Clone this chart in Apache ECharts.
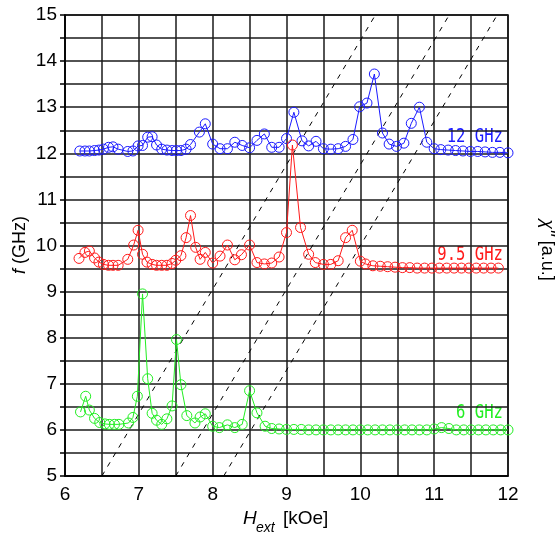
<!DOCTYPE html>
<html><head><meta charset="utf-8">
<script src="https://cdn.jsdelivr.net/npm/echarts@6/dist/echarts.min.js"></script>
<style>html,body{margin:0;padding:0;background:#fff}#c{width:560px;height:537px}</style>
</head><body><div id="c"></div>
<script>
// ---- data ----
const xTicks = [6, 7, 8, 9, 10, 11, 12];
const yTicks = [5, 6, 7, 8, 9, 10, 11, 12, 13, 14, 15];

const hBlue = [6.2,6.27,6.33,6.4,6.46,6.52,6.59,6.65,6.72,6.85,6.92,6.99,7.05,7.12,7.18,7.24,7.31,7.38,7.45,7.51,7.57,7.64,7.7,7.82,7.9,8.0,8.1,8.2,8.3,8.4,8.5,8.6,8.7,8.8,8.9,9.0,9.1,9.21,9.3,9.4,9.5,9.6,9.7,9.8,9.9,9.99,10.09,10.19,10.3,10.39,10.49,10.59,10.69,10.8,10.9,11.0,11.09,11.19,11.29,11.39,11.49,11.59,11.69,11.79,11.89,12.0];
const fBlue = [12.05,12.05,12.05,12.06,12.07,12.09,12.13,12.14,12.09,12.04,12.05,12.16,12.17,12.35,12.36,12.18,12.09,12.07,12.06,12.06,12.06,12.09,12.19,12.46,12.64,12.20,12.10,12.10,12.24,12.17,12.12,12.28,12.42,12.13,12.13,12.32,12.89,12.27,12.16,12.26,12.10,12.09,12.10,12.15,12.30,13.01,13.09,13.72,12.44,12.20,12.15,12.22,12.65,13.0,12.24,12.10,12.08,12.07,12.06,12.05,12.04,12.04,12.03,12.02,12.02,12.01];

const hRed = [6.19,6.27,6.33,6.4,6.46,6.52,6.59,6.65,6.72,6.85,6.93,6.99,7.05,7.11,7.18,7.24,7.31,7.38,7.45,7.5,7.57,7.64,7.7,7.77,7.83,7.9,8.0,8.1,8.2,8.3,8.39,8.5,8.6,8.7,8.8,8.9,9.0,9.08,9.19,9.3,9.39,9.5,9.6,9.7,9.8,9.89,10.0,10.07,10.17,10.27,10.37,10.47,10.57,10.67,10.77,10.87,10.97,11.07,11.17,11.27,11.37,11.47,11.57,11.67,11.77,11.87];
const fRed = [9.72,9.85,9.88,9.73,9.64,9.59,9.57,9.57,9.57,9.70,10.01,10.33,9.81,9.64,9.59,9.57,9.57,9.57,9.61,9.68,9.78,10.17,10.65,9.96,9.70,9.85,9.62,9.77,10.01,9.69,9.80,10.01,9.63,9.60,9.62,9.75,10.28,12.18,10.39,9.81,9.63,9.59,9.59,9.67,10.17,10.33,9.66,9.60,9.56,9.55,9.54,9.53,9.52,9.52,9.51,9.51,9.51,9.51,9.51,9.51,9.51,9.51,9.51,9.51,9.51,9.51];

const hGreen = [6.21,6.28,6.33,6.4,6.47,6.54,6.6,6.67,6.73,6.86,6.92,6.98,7.05,7.12,7.18,7.24,7.31,7.38,7.45,7.51,7.57,7.65,7.76,7.83,7.9,8.0,8.09,8.2,8.3,8.4,8.5,8.6,8.71,8.8,8.9,9.0,9.1,9.2,9.3,9.4,9.5,9.6,9.7,9.8,9.9,10.0,10.1,10.2,10.3,10.4,10.5,10.6,10.7,10.8,10.9,11.0,11.1,11.2,11.3,11.4,11.5,11.6,11.7,11.8,11.9,12.0];
const fGreen = [6.39,6.73,6.43,6.25,6.16,6.13,6.12,6.12,6.12,6.15,6.27,6.73,8.95,7.11,6.36,6.21,6.12,6.24,6.52,7.96,6.98,6.31,6.15,6.28,6.35,6.08,6.05,6.11,6.05,6.12,6.85,6.37,6.08,6.03,6.02,6.01,6.01,6.01,6.0,6.0,6.0,6.0,6.0,6.0,6.0,6.0,6.0,6.0,6.0,6.0,6.0,6.0,6.0,6.0,6.0,6.02,6.05,6.03,6.0,6.0,6.0,6.0,6.0,6.0,6.0,6.0];

// resonance lines f = s*(H - H0), drawn between f=5 and f=15
const lineH0 = [6.5, 7.5, 8.15];
const lineSlope = 2.7;
const lineF = [5, 15];

const seriesNames = ['12 GHz', '9.5 GHz', '6 GHz'];
const seriesColors = ['#1a1aff', '#ff1a1a', '#22ee22'];

// ---- build ----
const zip = (a, b) => a.map((v, i) => [v, b[i]]);
const dataSets = [zip(hBlue, fBlue), zip(hRed, fRed), zip(hGreen, fGreen)];

const series = [];
lineH0.forEach(h0 => {
  series.push({
    type: 'line', silent: true, symbol: 'none', z: 1,
    data: lineF.map(f => [h0 + (f - 5) / lineSlope, f]),
    lineStyle: { color: '#000', width: 1, type: [5, 6] }
  });
});
dataSets.forEach((d, i) => {
  series.push({
    type: 'line', name: seriesNames[i], data: d, z: 3,
    symbol: 'circle', symbolSize: 10,
    itemStyle: { color: 'rgba(0,0,0,0)', borderColor: seriesColors[i], borderWidth: 1 },
    lineStyle: { color: seriesColors[i], width: 1 },
    emphasis: { disabled: true }
  });
});

const labelFmt = v => (Math.abs(v - Math.round(v)) < 1e-6 ? String(Math.round(v)) : '');
const lblFont = '19px "DejaVu Sans Mono"';

const chart = echarts.init(document.getElementById('c'), null, { renderer: 'canvas' });
chart.setOption({
  animation: false,
  backgroundColor: '#fff',
  grid: { left: 65, right: 52, top: 15, bottom: 61, show: true, borderColor: '#000', borderWidth: 1.5, backgroundColor: 'transparent' },
  xAxis: {
    type: 'value', min: xTicks[0], max: xTicks[xTicks.length - 1], interval: 0.5,
    axisLine: { show: true, lineStyle: { color: '#000', width: 1.5 } },
    axisTick: { show: false },
    axisLabel: { formatter: labelFmt, color: '#000', fontSize: 19, fontFamily: 'Liberation Sans', margin: 9 },
    splitLine: { show: true, lineStyle: { color: '#1a1a1a', width: 1.5 } }
  },
  yAxis: {
    type: 'value', min: yTicks[0], max: yTicks[yTicks.length - 1], interval: 0.5,
    axisLine: { show: true, lineStyle: { color: '#000', width: 1.5 } },
    axisTick: { show: true, length: 5, lineStyle: { color: '#000', width: 1.5 } },
    axisLabel: { formatter: labelFmt, color: '#000', fontSize: 19, fontFamily: 'Liberation Sans', margin: 8 },
    splitLine: { show: true, lineStyle: { color: '#1a1a1a', width: 1.5 } }
  },
  series: series,
  graphic: [
    { type: 'text', x: 503, y: 137, scaleX: 0.82, style: { text: seriesNames[0], fill: seriesColors[0], font: lblFont, align: 'right', verticalAlign: 'middle' } },
    { type: 'text', x: 503, y: 255, scaleX: 0.82, style: { text: seriesNames[1], fill: seriesColors[1], font: lblFont, align: 'right', verticalAlign: 'middle' } },
    { type: 'text', x: 503, y: 413, scaleX: 0.82, style: { text: seriesNames[2], fill: seriesColors[2], font: lblFont, align: 'right', verticalAlign: 'middle' } },
    // x axis name
    { type: 'text', x: 243, y: 519, style: { text: 'H', fill: '#000', font: 'italic 19px "Liberation Sans"', verticalAlign: 'middle' } },
    { type: 'text', x: 256, y: 528, style: { text: 'ext', fill: '#000', font: 'italic 14px "Liberation Sans"', verticalAlign: 'middle' } },
    { type: 'text', x: 283, y: 519, style: { text: '[kOe]', fill: '#000', font: '19px "Liberation Sans"', verticalAlign: 'middle' } },
    // y axis name
    { type: 'text', x: 20, y: 245, rotation: Math.PI / 2, style: { text: '{i|f} (GHz)', fill: '#000', font: '18px "Liberation Sans"', align: 'center', verticalAlign: 'middle', rich: { i: { fontStyle: 'italic', fontSize: 18, fontFamily: 'Liberation Sans' } } } },
    // right axis name
    { type: 'text', x: 547, y: 250, rotation: -Math.PI / 2, style: { text: "{i|χ''} [a.u.]", fill: '#000', font: '18px "Liberation Sans"', align: 'center', verticalAlign: 'middle', rich: { i: { fontStyle: 'italic', fontSize: 18, fontFamily: 'Liberation Sans' } } } }
  ]
});
</script>
</body></html>
